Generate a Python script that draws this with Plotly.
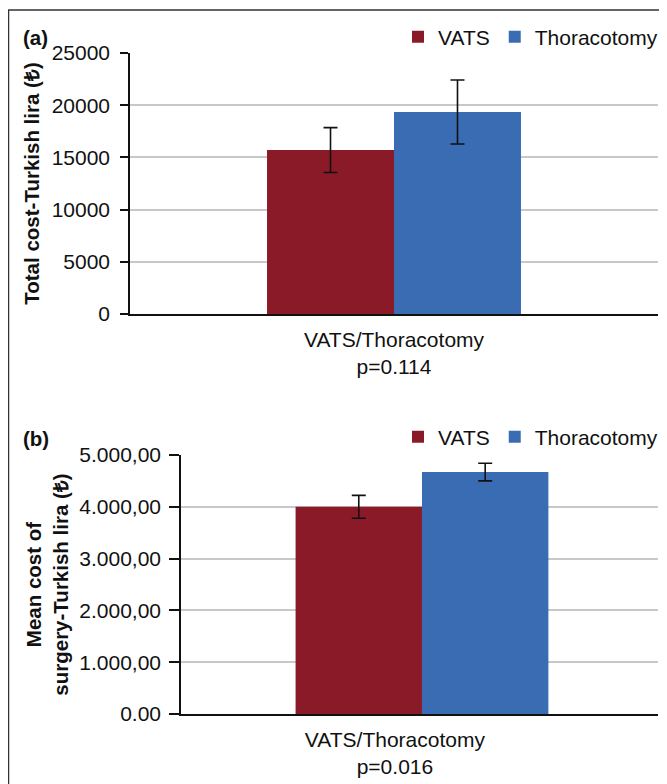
import plotly.graph_objects as go
from plotly.subplots import make_subplots

# ---- data ----
groups = ["VATS", "Thoracotomy"]
category = ["VATS/Thoracotomy"]
p_values = ["p=0.114", "p=0.016"]

total_cost = [15700, 19350]
total_cost_err = [2150, 3070]
total_ticks = [0, 5000, 10000, 15000, 20000, 25000]
total_ticktext = ["0", "5000", "10000", "15000", "20000", "25000"]

surgery_cost = [4000, 4670]
surgery_cost_err = [220, 170]
surgery_ticks = [0, 1000, 2000, 3000, 4000, 5000]
surgery_ticktext = ["0.00", "1.000,00", "2.000,00", "3.000,00", "4.000,00", "5.000,00"]

colors = ["#8B1A28", "#3A6CB4"]
FONT = "Liberation Sans, Arial, Helvetica, sans-serif"

# page body has an 8px default margin: work in screen pixels and convert
OFF = 8
W, H = 667 - OFF, 784 - OFF


def px(sx):
    return (sx - OFF) / W


def py(sy):
    return 1 - (sy - OFF) / H


fig = make_subplots(rows=2, cols=1)

# panel (b): the category label sits left of the bar pair in the original
shift_b = 0.0515
bar_w = [0.2405, 0.265]
bar_off_b = [-bar_w[1] + 0.0567, 0.0567]
for i, g in enumerate(groups):
    fig.add_trace(go.Bar(
        x=category, y=[total_cost[i]], name=g, marker_color=colors[i],
        marker_line_width=0, width=bar_w[0], offset=(-bar_w[0] if i == 0 else 0),
        error_y=dict(type="data", array=[total_cost_err[i]], color="#111111", thickness=1.6, width=7),
        legend="legend", showlegend=True), row=1, col=1)
    fig.add_trace(go.Bar(
        x=category, y=[surgery_cost[i]], name=g, marker_color=colors[i],
        marker_line_width=0, width=bar_w[1], offset=bar_off_b[i],
        error_y=dict(type="data", array=[surgery_cost_err[i]], color="#111111", thickness=1.6, width=7),
        legend="legend2", showlegend=True), row=2, col=1)

axis_common = dict(showline=True, linecolor="#111111", linewidth=1.5, automargin=False,
                   tickfont=dict(family=FONT, size=21, color="#111111"))
title_font = dict(family=FONT, size=20.5, color="#111111")

fig.update_xaxes(**axis_common, ticks="", ticklabelstandoff=6, domain=[px(130), px(658)], row=1, col=1,
                 range=[-0.5, 0.5],
                 tickvals=category, ticktext=[category[0] + "<br>" + p_values[0]])
fig.update_xaxes(**axis_common, ticks="", ticklabelstandoff=6, domain=[px(181), px(658)], row=2, col=1,
                 range=[-0.5 + shift_b, 0.5 + shift_b],
                 tickvals=category, ticktext=[category[0] + "<br>" + p_values[1]])

fig.update_yaxes(**axis_common, ticks="outside", ticklen=8, tickcolor="#111111", tickwidth=1.5,
                 ticklabelstandoff=6,
                 range=[0, 25000], tickvals=total_ticks, ticktext=total_ticktext,
                 showgrid=True, gridcolor="#c8c8c8", gridwidth=1.5, zeroline=False,
                 domain=[py(314), py(53)],
                 title=dict(text="<b>Total cost-Turkish lira (₺)</b>", font=title_font, standoff=6),
                 row=1, col=1)
fig.update_yaxes(**axis_common, ticks="outside", ticklen=10, tickcolor="#111111", tickwidth=1.5,
                 ticklabelstandoff=4,
                 range=[0, 5000], tickvals=surgery_ticks, ticktext=surgery_ticktext,
                 showgrid=True, gridcolor="#c8c8c8", gridwidth=1.5, zeroline=False,
                 domain=[py(714), py(455)],
                 title=dict(text="<b>Mean cost of<br>surgery-Turkish lira (₺)</b>", font=title_font, standoff=5),
                 row=2, col=1)

legend_common = dict(orientation="h", xanchor="right", yanchor="middle",
                     font=dict(family=FONT, size=21, color="#111111"),
                     bgcolor="rgba(0,0,0,0)", traceorder="normal", itemclick=False,
                     tracegroupgap=0, itemwidth=30)

fig.update_layout(
    width=W, height=H, margin=dict(l=0, r=0, t=0, b=0, autoexpand=False),
    paper_bgcolor="white", plot_bgcolor="white",
    barmode="group", showlegend=True,
    legend=dict(**legend_common, x=px(663), y=py(37)),
    legend2=dict(**legend_common, x=px(663), y=py(437)),
    font=dict(family=FONT, size=21, color="#111111"),
    shapes=[dict(type="rect", xref="paper", yref="paper",
                 x0=px(8.5), x1=1.2, y0=-0.2, y1=py(10),
                 line=dict(color="#333333", width=1.5), fillcolor="rgba(0,0,0,0)")],
    annotations=[
        dict(text="<b>(a)</b>", xref="paper", yref="paper", x=px(21), y=py(38),
             xanchor="left", yanchor="middle", showarrow=False,
             font=dict(family=FONT, size=20.5, color="#111111")),
        dict(text="<b>(b)</b>", xref="paper", yref="paper", x=px(21), y=py(438),
             xanchor="left", yanchor="middle", showarrow=False,
             font=dict(family=FONT, size=20.5, color="#111111")),
    ],
)

fig.write_html("out.html")
